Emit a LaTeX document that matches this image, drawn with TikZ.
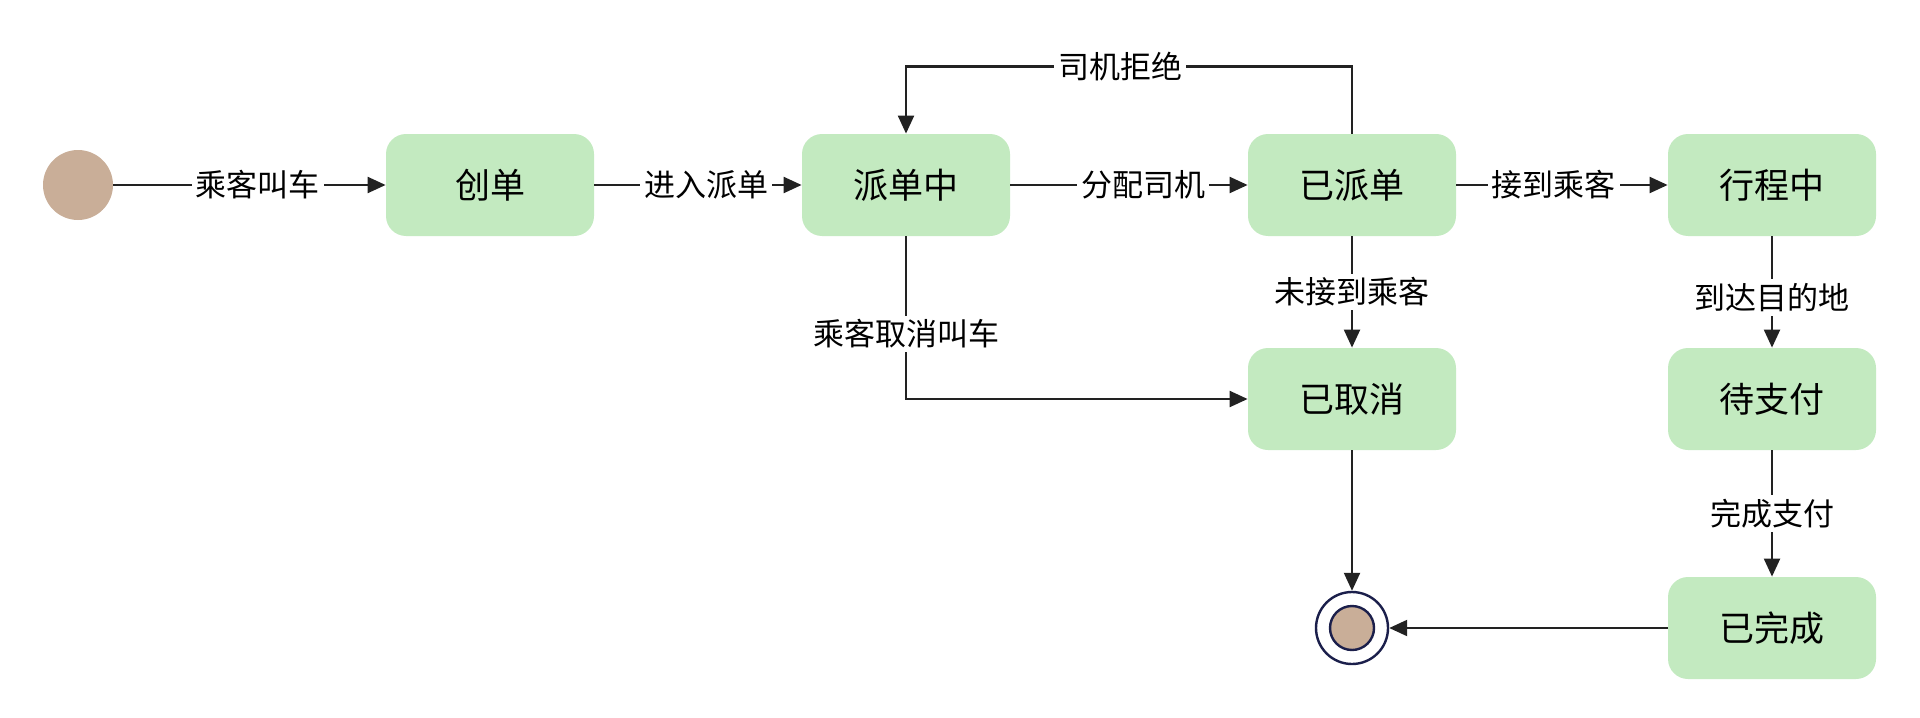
\documentclass[tikz,border=0pt]{standalone}
\usepackage{fontspec}
\setmainfont{Noto Sans CJK SC}
\usetikzlibrary{arrows.meta}
\definecolor{stategreen}{HTML}{C3EAC0}
\definecolor{dotbrown}{HTML}{C9AE98}
\definecolor{linegray}{HTML}{222222}
\definecolor{endnavy}{HTML}{1B1F4B}
\tikzset{statebox/.style={rounded corners=10pt, fill=stategreen, minimum width=104pt, minimum height=51pt, font=\fontsize{17.5}{20}\selectfont}}
\tikzset{trans/.style={draw=linegray, line width=1.1pt, -{Triangle[length=9pt,width=8pt]}}}
\tikzset{lbl/.style={fill=white, inner sep=2pt, font=\fontsize{15.5}{18}\selectfont}}
\tikzset{startdot/.style={circle, fill=dotbrown, inner sep=0pt, minimum size=35pt}}
\tikzset{enddot/.style={circle, draw=endnavy, line width=1.2pt, fill=white, inner sep=0pt, minimum size=36pt}}
\tikzset{endcore/.style={circle, draw=endnavy, line width=1.2pt, fill=dotbrown, inner sep=0pt, minimum size=22pt}}

\begin{document}
\begin{tikzpicture}[x=0.5pt, y=-0.5pt]
            \useasboundingbox (0, 0) rectangle (1920, 717);
            % states
            \node[startdot] (start) at (78, 185) {};
            \node[statebox] (create) at (490, 185) {创单};
            \node[statebox] (dispatching) at (906, 185) {派单中};
            \node[statebox] (dispatched) at (1352, 185) {已派单};
            \node[statebox] (ontrip) at (1772, 185) {行程中};
            \node[statebox] (cancelled) at (1352, 399) {已取消};
            \node[statebox] (unpaid) at (1772, 399) {待支付};
            \node[statebox] (done) at (1772, 628) {已完成};
            \node[enddot] (end) at (1352, 628) {};
            \node[endcore] (endcore) at (end) {};
            % transitions
            \draw[trans] (start) -- node[lbl, pos=0.53] {乘客叫车} (create);
            \draw[trans] (create) -- node[lbl, pos=0.54] {进入派单} (dispatching);
            \draw[trans] (dispatching) -- node[lbl, pos=0.56] {分配司机} (dispatched);
            \draw[trans] (dispatched) -- node[lbl, pos=0.46] {接到乘客} (ontrip);
            \draw[trans] (dispatched.north) -- ++(0, -67) -| node[lbl, pos=0.26] {司机拒绝} (dispatching.north);
            \draw[trans] (dispatching.south) |- node[lbl, pos=0.3] {乘客取消叫车} (cancelled.west);
            \draw[trans] (dispatched) -- node[lbl] {未接到乘客} (cancelled);
            \draw[trans] (ontrip) -- node[lbl, pos=0.55] {到达目的地} (unpaid);
            \draw[trans] (unpaid) -- node[lbl] {完成支付} (done);
            \draw[trans] (cancelled) -- (end);
            \draw[trans] (done) -- (end);
        \end{tikzpicture}
\end{document}
